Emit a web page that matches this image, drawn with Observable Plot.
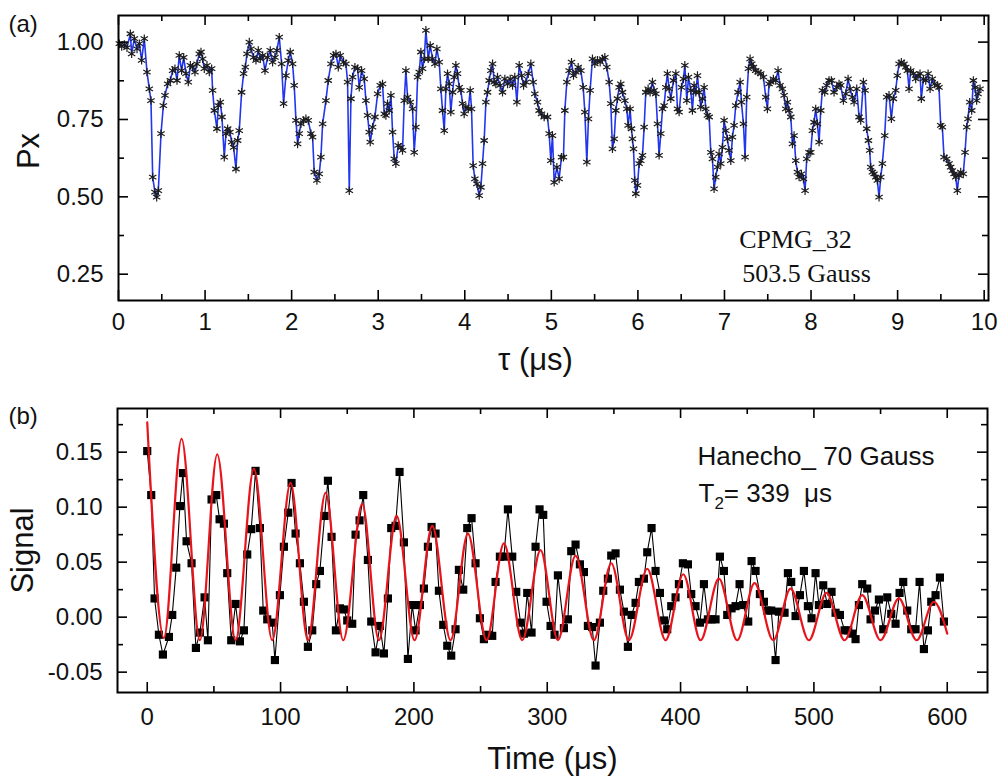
<!DOCTYPE html>
<html><head><meta charset="utf-8">
<script src="https://cdn.jsdelivr.net/npm/d3@7"></script>
<script src="https://cdn.jsdelivr.net/npm/@observablehq/plot@0.6"></script>
<style>
html,body{margin:0;padding:0;background:#fff;}
#wrap{position:relative;width:999px;height:781px;overflow:hidden;background:#fff}
#pa{position:absolute;left:0;top:0}
#pb{position:absolute;left:0;top:390px}
</style></head><body><div id="wrap"><div id="pa"></div><div id="pb"></div></div>
<script>
// ---------- Panel (a): CPMG_32, Px vs tau (µs) ----------
const cpmgPoints = [
[0.010,0.995],[0.037,0.986],[0.067,0.992],[0.098,0.982],[0.137,1.027],[0.152,0.962],[0.183,1.011],[0.214,0.978],[0.241,0.995],[0.267,0.941],
[0.298,1.011],[0.329,0.903],[0.356,0.849],[0.375,0.811],[0.395,0.564],[0.421,0.515],[0.441,0.499],[0.460,0.520],[0.491,0.704],[0.518,0.795],
[0.537,0.828],[0.568,0.865],[0.599,0.876],[0.625,0.908],[0.652,0.914],[0.676,0.876],[0.702,0.957],[0.729,0.908],[0.753,0.951],[0.780,0.898],
[0.806,0.871],[0.830,0.925],[0.856,0.919],[0.883,0.903],[0.906,0.930],[0.933,0.962],[0.953,0.968],[0.972,0.946],[0.991,0.914],[1.022,0.925],
[1.049,0.903],[1.076,0.914],[1.087,0.844],[1.107,0.779],[1.137,0.720],[1.153,0.795],[1.176,0.806],[1.195,0.758],[1.222,0.628],[1.241,0.704],
[1.261,0.720],[1.287,0.709],[1.307,0.677],[1.330,0.660],[1.357,0.590],[1.376,0.682],[1.395,0.714],[1.422,0.838],[1.445,0.898],[1.465,0.919],
[1.484,0.962],[1.511,1.000],[1.530,0.978],[1.561,0.951],[1.588,0.941],[1.615,0.973],[1.638,0.946],[1.665,0.957],[1.692,0.908],[1.722,0.951],
[1.753,0.973],[1.780,0.935],[1.807,0.951],[1.830,0.973],[1.857,1.016],[1.884,0.930],[1.907,0.801],[1.934,0.892],[1.961,0.941],[1.984,0.968],
[2.011,0.930],[2.030,0.860],[2.050,0.747],[2.069,0.671],[2.088,0.704],[2.107,0.736],[2.138,0.747],[2.165,0.752],[2.192,0.747],[2.223,0.704],
[2.242,0.693],[2.261,0.580],[2.292,0.553],[2.319,0.574],[2.338,0.628],[2.358,0.736],[2.396,0.811],[2.423,0.876],[2.454,0.930],[2.485,0.957],
[2.512,0.962],[2.539,0.919],[2.562,0.957],
[2.600,0.935],[2.627,0.930],[2.646,0.871],[2.666,0.520],[2.685,0.817],[2.704,0.887],[2.731,0.919],[2.762,0.914],[2.781,0.854],[2.808,0.908],
[2.839,0.881],[2.858,0.811],[2.877,0.763],[2.896,0.709],[2.908,0.677],[2.935,0.725],[2.962,0.758],[2.993,0.833],[3.024,0.860],[3.050,0.865],
[3.070,0.768],[3.089,0.763],[3.108,0.801],[3.127,0.779],[3.147,0.828],[3.166,0.709],[3.185,0.623],[3.204,0.607],[3.231,0.666],[3.262,0.660],
[3.281,0.650],[3.301,0.811],[3.320,0.908],[3.339,0.822],[3.370,0.806],[3.397,0.784],[3.416,0.644],[3.435,0.725],[3.455,0.887],[3.474,0.903],
[3.493,0.968],[3.512,0.914],[3.532,0.946],[3.551,1.038],[3.578,0.946],[3.601,0.989],[3.628,0.946],[3.655,0.930],[3.678,0.978],[3.705,0.935],
[3.724,0.849],[3.743,0.779],[3.763,0.714],[3.782,0.849],[3.801,0.898],[3.820,0.865],[3.839,0.774],[3.859,0.838],[3.878,0.887],[3.897,0.925],
[3.916,0.898],[3.936,0.854],[3.955,0.844],[3.974,0.801],[3.993,0.768],[4.013,0.790],[4.040,0.784],[4.063,0.844],[4.078,0.784],[4.097,0.601],
[4.117,0.558],[4.140,0.542],[4.167,0.504],[4.186,0.531],[4.205,0.607],[4.224,0.682],[4.244,0.806],[4.263,0.838],[4.282,0.876],[4.301,0.908],
[4.321,0.930],[4.340,0.871],[4.359,0.865],[4.378,0.887],[4.409,0.860],[4.436,0.838],[4.463,0.881],[4.494,0.865],[4.525,0.881],[4.552,0.860],
[4.578,0.887],[4.602,0.806],[4.629,0.925],[4.656,0.892],[4.679,0.860],[4.706,0.871],[4.733,0.898],[4.763,0.930],[4.790,0.871],[4.809,0.833],
[4.840,0.806],[4.859,0.779],[4.886,0.768],[4.917,0.758],[4.956,0.758],[4.975,0.704],[4.994,0.617],
[5.013,0.698],[5.033,0.547],[5.064,0.596],[5.090,0.558],[5.117,0.628],[5.140,0.628],[5.156,0.779],[5.179,0.871],[5.206,0.908],[5.233,0.935],
[5.256,0.892],[5.283,0.903],[5.310,0.919],[5.341,0.908],[5.368,0.854],[5.387,0.774],[5.410,0.612],[5.429,0.752],[5.448,0.844],[5.475,0.946],
[5.502,0.930],[5.533,0.941],[5.564,0.935],[5.591,0.946],[5.618,0.951],[5.641,0.919],[5.668,0.871],[5.687,0.801],[5.706,0.655],[5.726,0.687],
[5.745,0.779],[5.764,0.817],[5.783,0.854],[5.802,0.865],[5.822,0.838],[5.849,0.811],[5.872,0.784],[5.887,0.731],[5.910,0.784],[5.926,0.720],
[5.937,0.687],[5.949,0.655],[5.964,0.553],[5.976,0.510],[5.995,0.537],[6.014,0.607],[6.033,0.617],[6.053,0.634],[6.072,0.725],[6.091,0.838],
[6.118,0.849],[6.141,0.838],[6.168,0.871],[6.187,0.844],[6.207,0.833],[6.226,0.736],[6.245,0.634],[6.264,0.704],[6.284,0.784],[6.303,0.795],
[6.322,0.854],[6.341,0.898],[6.361,0.849],[6.380,0.817],[6.411,0.876],[6.438,0.898],[6.457,0.784],[6.476,0.774],[6.503,0.854],[6.526,0.881],
[6.542,0.925],[6.565,0.811],[6.584,0.887],[6.611,0.844],[6.630,0.779],[6.649,0.860],[6.669,0.838],[6.688,0.892],[6.707,0.838],[6.726,0.790],
[6.746,0.817],[6.765,0.854],[6.784,0.784],[6.803,0.763],[6.823,0.758],[6.842,0.644],[6.861,0.623],[6.880,0.526],[6.899,0.564],[6.919,0.596],
[6.938,0.639],[6.957,0.607],[6.976,0.660],[6.996,0.747],[7.015,0.714],[7.034,0.687],[7.053,0.650],[7.073,0.617],[7.092,0.693],[7.111,0.731],
[7.130,0.795],[7.157,0.838],[7.181,0.871],[7.196,0.806],[7.219,0.736],[7.238,0.628],[7.257,0.822],[7.277,0.914],[7.296,0.946],[7.315,0.930],
[7.334,0.919],[7.361,0.908],[7.388,0.903],[7.419,0.898],[7.450,0.887],[7.477,0.822],[7.496,0.784],[7.515,0.865],[7.535,0.871],
[7.565,0.881],[7.592,0.876],[7.619,0.908],[7.642,0.860],[7.669,0.849],[7.689,0.828],[7.708,0.784],[7.727,0.806],[7.746,0.779],[7.766,0.758],
[7.785,0.671],[7.804,0.698],[7.823,0.617],[7.843,0.580],[7.862,0.564],[7.889,0.574],[7.912,0.558],[7.931,0.520],[7.950,0.623],[7.977,0.644],
[7.997,0.644],[8.016,0.714],[8.035,0.741],[8.054,0.784],[8.074,0.736],[8.093,0.677],[8.112,0.779],[8.131,0.844],[8.158,0.838],[8.181,0.860],
[8.208,0.876],[8.235,0.876],[8.266,0.838],[8.297,0.854],[8.324,0.865],[8.343,0.860],[8.374,0.811],[8.401,0.833],[8.428,0.881],[8.451,0.849],
[8.478,0.822],[8.497,0.806],[8.528,0.849],[8.555,0.758],[8.574,0.747],[8.605,0.871],[8.624,0.844],[8.643,0.720],[8.663,0.682],[8.678,0.650],
[8.689,0.596],[8.709,0.580],[8.728,0.574],[8.747,0.564],[8.766,0.553],[8.786,0.499],[8.805,0.564],[8.824,0.607],[8.851,0.698],[8.874,0.822],
[8.901,0.828],[8.928,0.752],[8.951,0.817],[8.978,0.844],[8.997,0.892],[9.017,0.930],[9.043,0.935],[9.074,0.930],[9.094,0.919],[9.113,0.908],
[9.132,0.849],[9.151,0.908],[9.182,0.898],[9.209,0.881],[9.236,0.892],[9.259,0.898],[9.274,0.817],[9.298,0.881],[9.325,0.876],[9.352,0.898],
[9.375,0.849],[9.401,0.881],[9.428,0.865],[9.459,0.860],[9.478,0.854],[9.498,0.731],[9.517,0.725],[9.536,0.628],[9.567,0.623],[9.594,0.607],
[9.613,0.596],[9.632,0.585],[9.652,0.574],[9.671,0.564],[9.690,0.520],[9.709,0.569],[9.729,0.580],[9.759,0.574],[9.779,0.644],[9.798,0.725],
[9.813,0.752],[9.833,0.806],[9.856,0.779],[9.875,0.876],[9.894,0.854],[9.913,0.811],[9.929,0.833],[9.952,0.849]
];
const xTicksA = [0,1,2,3,4,5,6,7,8,9,10];
const xMinorA = [0.5,1.5,2.5,3.5,4.5,5.5,6.5,7.5,8.5,9.5];
const yTicksA = [0.25,0.5,0.75,1.0];
const yMinorA = [0.375,0.625,0.875];

// ---------- Panel (b): Hanecho, Signal vs Time (µs) ----------
const echoPoints = [
[0,0.151],[3,0.111],[5.5,0.017],[8.75,-0.016],[11.75,-0.034],[16.25,-0.018],[18.75,0.002],[21.75,0.045],[24.5,0.101],[26.75,0.131],
[29.5,0.069],[33.25,0.049],[36.5,-0.028],[39.5,-0.014],[43,0.018],[45.5,-0.021],[48.25,0.107],[51.75,0.111],[54.25,0.089],[57.5,0.085],
[60,0.040],[63,-0.021],[66.25,0.012],[69.5,-0.022],[72.5,-0.012],[75,0.057],[78,0.080],[81.25,0.133],[84.5,0.081],[87,0.006],
[90,-0.002],[93.75,-0.005],[95.75,-0.039],[99.5,0.020],[102.5,0.064],[105.75,0.095],[108.25,0.122],[111.25,0.076],[114.5,0.049],[117.5,0.014],
[120.5,-0.027],[123.75,-0.012],[126.75,0.030],[129.5,0.042],[133,0.092],[135.5,0.124],[138.25,0.073],[141.5,-0.012],[144.5,0.008],
[147.5,0.007],[150,-0.003],[153.75,-0.006],[156.25,0.075],[159.25,0.088],[162,0.111],[165.5,0.052],[168,-0.004],[171.25,-0.032],[174.5,-0.008],
[177.5,-0.033],[180.5,0.017],[183,0.081],[186.25,0.083],[189.25,0.132],[192.5,0.068],[195.5,-0.038],[198.75,0.011],[201.25,-0.012],[204.5,0.011],
[207.5,0.026],[210.5,0.064],[213.25,0.082],[216.25,0.076],[218.75,0.024],[222,-0.007],[225,-0.026],[228,-0.035],[231.25,-0.011],[233.75,0.043],
[237,0.025],[240,0.081],[243.25,0.090],[246.25,0.049],[249.5,-0.001],[252.5,-0.020],[255.75,-0.016],[258.75,-0.017],[261.25,0.032],[264.5,0.055],
[267.5,0.055],[270.5,0.098],[273.75,0.055],[276.75,0.023],[280,-0.005],[282.5,-0.015],[285,0.022],[288.25,-0.014],[291.25,0.064],[294.25,0.098],
[297,0.093],[299.5,0.014],[302.5,-0.008],[305.5,-0.016],[308,0.038],
[312.5,-0.010],[315.5,-0.002],[318,0.060],[321.25,0.066],[324.5,0.048],[327.5,0.041],[330.5,-0.008],[333.75,-0.009],[336.25,-0.044],[339.5,-0.005],
[342,0.024],[345.5,0.035],[348,0.056],[351.25,0.058],[354.5,0.025],[357.5,0.005],[360.5,-0.027],[363.25,0.002],[366.25,0.013],[368.75,0.032],
[372.5,0.035],[375,0.059],[378.25,0.081],[381.25,0.042],[384.5,0.022],[387.5,-0.003],[390,-0.011],[393,0.010],[396.25,0.018],[398.75,0.030],
[401.75,0.049],[405.5,0.048],[408,0.021],[411.25,0.010],[414.5,-0.005],[417.5,0.030],[420.5,-0.002],[423.25,-0.002],[426.25,-0.002],[429.5,0.055],
[432.5,0.042],[435,0.002],[438.25,0.008],[441.25,0.010],[444.25,0.030],[447,0.011],[450.75,-0.004],[453.25,0.051],[456.25,0.042],[459.5,0.021],
[462.5,0.014],[465,0.006],[468,0.006],[471.25,-0.039],[473.75,0.005],
[478,0.004],[480.5,0.040],[483,0.032],[486.25,0.001],[489.5,0.020],[492.5,0.042],[495.5,0.010],[498.25,-0.001],[501.25,0.040],[503.75,0.011],
[507,0.029],[510,0.012],[513.25,0.023],[516.25,0.004],[519.5,0.002],[523,-0.012],[525.75,-0.012],[528.75,-0.015],[531.25,-0.020],[533.75,0.011],
[536.25,0.030],[540,0.026],[542.5,-0.002],[545.75,0.006],[548.75,0.016],[552,-0.011],[555,0.018],[558,0.003],[561.25,-0.006],[564.25,0.022],
[567,0.032],[570,0.006],[573,-0.011],[576.25,-0.011],[579.25,0.032],[582.5,-0.029],[585.5,-0.012],[588,0.014],[591.25,0.020],[594.5,0.036],
[597.5,-0.004]
];
// red fit curve: read extrema (peaks/troughs) of the fit
const fitTime = [0,12.5,25.75,39.5,52.5,66.25,80,93.75,107.5,120.5,133.75,147,161.25,173.75,187,200.5,213.75,227.5,240.5,254.5,267.5,281.25,295,308,321.25,335,348,361.25,375,388.75,402,415,428.75,442.5,455.5,469.5,482.5,496.25,509.5,523,536.25,550,563.75,577,590,600];
const fitSignal = [0.177,-0.019,0.162,-0.021,0.148,-0.021,0.135,-0.021,0.122,-0.021,0.113,-0.021,0.103,-0.021,0.092,-0.021,0.083,-0.021,0.076,-0.021,0.067,-0.021,0.061,-0.021,0.056,-0.021,0.049,-0.021,0.044,-0.021,0.039,-0.021,0.035,-0.021,0.031,-0.021,0.026,-0.021,0.022,-0.021,0.020,-0.021,0.017,-0.021,0.014,-0.015];
const xTicksB = [0,100,200,300,400,500,600];
const xMinorB = [50,150,250,350,450,550];
const yTicksB = [-0.05,0,0.05,0.10,0.15];
const yMinorB = [-0.025,0.025,0.075,0.125,0.175];

// ---------- helpers ----------
const W = 999;
const sansFont = "'Liberation Sans', Arial, Helvetica, sans-serif";
const serifFont = "'Liberation Serif', 'Times New Roman', serif";
const MAJ = 10, MIN = 6;

function frameTicks(xMaj, xMin, yMaj, yMin, innerW, innerH) {
  const s = {stroke: "black", strokeWidth: 1.6};
  return [
    Plot.tickX(xMaj, {x: d => d, insetTop: innerH - MAJ, ...s}),
    Plot.tickX(xMaj, {x: d => d, insetBottom: innerH - MAJ, ...s}),
    Plot.tickX(xMin, {x: d => d, insetTop: innerH - MIN, ...s}),
    Plot.tickX(xMin, {x: d => d, insetBottom: innerH - MIN, ...s}),
    Plot.tickY(yMaj, {y: d => d, insetRight: innerW - MAJ, ...s}),
    Plot.tickY(yMaj, {y: d => d, insetLeft: innerW - MAJ, ...s}),
    Plot.tickY(yMin, {y: d => d, insetRight: innerW - MIN, ...s}),
    Plot.tickY(yMin, {y: d => d, insetLeft: innerW - MIN, ...s})
  ];
}
function label(str, opts) {
  return Plot.text([str], {text: d => d, textAnchor: "middle", lineAnchor: "middle", ...opts});
}

// ---------- panel (a) ----------
const A = {h: 390, mt: 15, mb: 90, ml: 118, mr: 11};
const aW = W - A.ml - A.mr, aH = A.h - A.mt - A.mb;
const dataA = cpmgPoints.map(([t, p]) => ({t, p}));
const plotA = Plot.plot({
  width: W, height: A.h,
  marginTop: A.mt, marginBottom: A.mb, marginLeft: A.ml, marginRight: A.mr,
  style: {fontFamily: sansFont, fontSize: "24px", color: "#111", background: "white", overflow: "visible"},
  x: {domain: [0, 10.05]},
  y: {domain: [0.165, 1.086]},
  marks: [
    Plot.line(dataA, {x: "t", y: "p", stroke: "#2236ee", strokeWidth: 1.6}),
    Plot.dot(dataA, {x: "t", y: "p", symbol: "asterisk", r: 4, stroke: "#1c1c1c", strokeWidth: 1.2}),
    ...frameTicks(xTicksA, xMinorA, yTicksA, yMinorA, aW, aH),
    Plot.axisX(xTicksA, {tickSize: 0, tickPadding: 12, label: null, tickFormat: d => String(d)}),
    Plot.axisY(yTicksA, {tickSize: 0, tickPadding: 15, label: null, tickFormat: d => d.toFixed(2)}),
    Plot.frame({stroke: "black", strokeWidth: 2}),
    label("(a)", {frameAnchor: "top-left", dx: -110, dy: 9, textAnchor: "start", fontSize: 24}),
    label("Px", {frameAnchor: "left", rotate: -90, dx: -89, dy: -7, fontSize: 31}),
    label("τ (μs)", {frameAnchor: "bottom", dx: -18, dy: 60, fontSize: 31}),
    label("CPMG_32", {frameAnchor: "top-right", dx: -193, dy: 224, fontFamily: serifFont, fontSize: 26}),
    label("503.5 Gauss", {frameAnchor: "top-right", dx: -182, dy: 258, fontFamily: serifFont, fontSize: 26})
  ]
});
document.getElementById("pa").appendChild(plotA);

// ---------- panel (b) ----------
const B = {h: 391, mt: 18, mb: 89, ml: 117, mr: 12};
const bW = W - B.ml - B.mr, bH = B.h - B.mt - B.mb;
const dataB = echoPoints.map(([t, s]) => ({t, s}));
const fitB = fitTime.map((t, i) => ({t, s: fitSignal[i]}));
const plotB = Plot.plot({
  width: W, height: B.h,
  marginTop: B.mt, marginBottom: B.mb, marginLeft: B.ml, marginRight: B.mr,
  style: {fontFamily: sansFont, fontSize: "24px", color: "#111", background: "white", overflow: "visible"},
  x: {domain: [-22.3, 630.2]},
  y: {domain: [-0.0685, 0.1897]},
  marks: [
    Plot.line(dataB, {x: "t", y: "s", stroke: "black", strokeWidth: 1.1}),
    Plot.dot(dataB, {x: "t", y: "s", symbol: "square", r: 4.6, fill: "black", stroke: "none"}),
    Plot.line(fitB, {x: "t", y: "s", stroke: "#e8141c", strokeWidth: 2.2, curve: "monotone-x"}),
    ...frameTicks(xTicksB, xMinorB, yTicksB, yMinorB, bW, bH),
    Plot.axisX(xTicksB, {tickSize: 0, tickPadding: 15, label: null, tickFormat: d => String(d)}),
    Plot.axisY(yTicksB, {tickSize: 0, tickPadding: 15, label: null, tickFormat: d => d.toFixed(2)}),
    Plot.frame({stroke: "black", strokeWidth: 2}),
    label("(b)", {frameAnchor: "top-left", dx: -109, dy: 8, textAnchor: "start", fontSize: 24}),
    label("Signal", {frameAnchor: "left", rotate: -90, dx: -94, dy: 0, fontSize: 31}),
    label("Time (μs)", {frameAnchor: "bottom", dx: 0, dy: 67, fontSize: 31}),
    label("Hanecho_ 70 Gauss", {frameAnchor: "top-right", dx: -290, dy: 48, textAnchor: "start", fontSize: 26}),
    label("T2= 339  μs", {frameAnchor: "top-right", dx: -289, dy: 85, textAnchor: "start", fontSize: 26})
  ]
});
document.getElementById("pb").appendChild(plotB);

// subscript for T2 label (kept as real text)
d3.select(plotB).selectAll("text").filter(function() { return this.textContent === "T2= 339  μs"; })
  .each(function() {
    const t = d3.select(this);
    t.text(null).style("white-space", "pre");
    t.append("tspan").text("T");
    t.append("tspan").attr("font-size", 17).attr("dy", 7).text("2");
    t.append("tspan").attr("dy", -7).text("= 339  μs");
  });
</script></body></html>
